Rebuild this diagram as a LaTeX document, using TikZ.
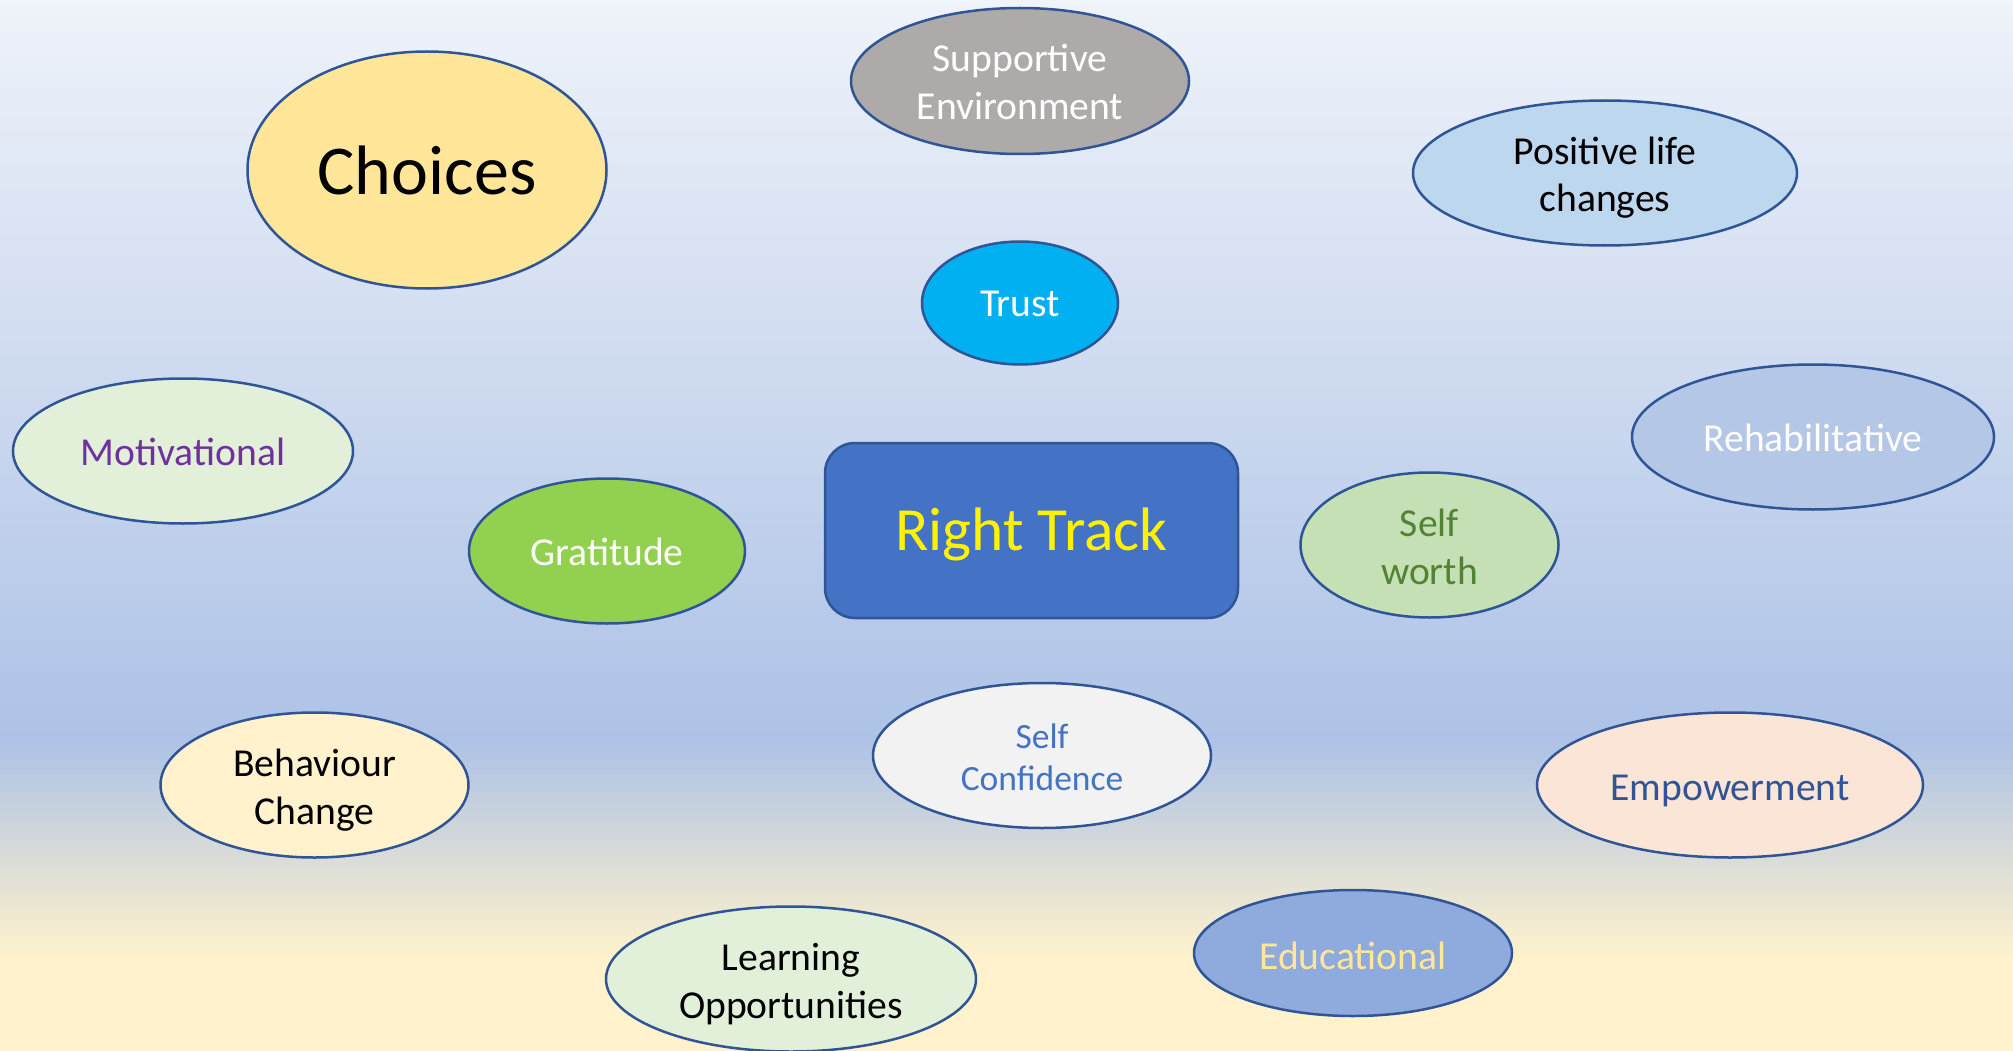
\documentclass[tikz,border=0pt]{standalone}
\usepackage{fontspec}
\setmainfont{Carlito}
\usetikzlibrary{shapes.geometric}
\definecolor{bgtop}{HTML}{EFF3FA}
\definecolor{bgmid}{HTML}{ADC2E6}
\definecolor{bgbot}{HTML}{FFF2CC}
\definecolor{edge}{HTML}{2F5597}
\definecolor{cChoices}{HTML}{FFE699}
\definecolor{cSupport}{HTML}{AEAAAA}
\definecolor{cPositive}{HTML}{BDD7EE}
\definecolor{cTrust}{HTML}{00B0F0}
\definecolor{cMotiv}{HTML}{E2F0D9}
\definecolor{tMotiv}{HTML}{7030A0}
\definecolor{cRehab}{HTML}{B4C7E7}
\definecolor{cGrat}{HTML}{92D050}
\definecolor{cRight}{HTML}{4472C4}
\definecolor{cWorth}{HTML}{C5E0B4}
\definecolor{tWorth}{HTML}{548235}
\definecolor{cBehav}{HTML}{FFF2CC}
\definecolor{cConf}{HTML}{F2F2F2}
\definecolor{tConf}{HTML}{4472C4}
\definecolor{cEmpow}{HTML}{FBE5D6}
\definecolor{tEmpow}{HTML}{2F5597}
\definecolor{cLearn}{HTML}{E2F0D9}
\definecolor{cEduc}{HTML}{8FAADC}
\definecolor{tEduc}{HTML}{FFE699}
\begin{document}
\begin{tikzpicture}[x=1pt,y=-1pt,
  bubble/.style={ellipse, draw=edge, line width=2.5pt, inner sep=0pt},
  label text/.style={inner sep=0pt, align=center, font=\fontsize{39.6}{47.5}\selectfont},
  centrebox/.style={rectangle, rounded corners=30pt, draw=edge, line width=2.5pt,
    fill=cRight, inner sep=0pt}]
\useasboundingbox (0,0) rectangle (2013,1051);
% background gradient
\shade[top color=bgtop, bottom color=bgmid] (0,0) rectangle (2013,741);
\shade[top color=bgmid, bottom color=bgbot] (0,740) rectangle (2013,958);
\fill[bgbot] (0,957) rectangle (2013,1051);

% shapes
\node[bubble, fill=cChoices, minimum width=359pt, minimum height=237pt] (choices) at (427,170) {};
\node[bubble, fill=cSupport, minimum width=338pt, minimum height=146pt] (support) at (1020,81) {};
\node[bubble, fill=cPositive, minimum width=384pt, minimum height=145pt] (positive) at (1605,173) {};
\node[bubble, fill=cTrust, minimum width=196pt, minimum height=123pt] (trust) at (1020,303) {};
\node[bubble, fill=cMotiv, minimum width=340pt, minimum height=145pt] (motiv) at (183,451) {};
\node[bubble, fill=cRehab, minimum width=362pt, minimum height=145pt] (rehab) at (1813,437) {};
\node[bubble, fill=cGrat, minimum width=276pt, minimum height=145pt] (grat) at (607,551) {};
\node[centrebox, minimum width=413pt, minimum height=175pt] (right) at (1031.5,530.5) {};
\node[bubble, fill=cWorth, minimum width=258pt, minimum height=145pt] (worth) at (1429.5,545) {};
\node[bubble, fill=cBehav, minimum width=308pt, minimum height=145pt] (behav) at (314.5,785) {};
\node[bubble, fill=cConf, minimum width=338pt, minimum height=145pt] (conf) at (1042,755.5) {};
\node[bubble, fill=cEmpow, minimum width=386pt, minimum height=145pt] (empow) at (1730,785) {};
\node[bubble, fill=cLearn, minimum width=370pt, minimum height=145pt] (learn) at (791,979) {};
\node[bubble, fill=cEduc, minimum width=318pt, minimum height=126pt] (educ) at (1353,953) {};

% texts
\node[label text, text=black, font=\fontsize{70}{80}\selectfont] (choicesT) at (choices.center) {Choices};
\node[label text, text=white] (supportT) at ([yshift=-1pt]support.center) {Supportive\\Environment};
\node[label text, text=black] (positiveT) at ([yshift=-4.5pt]positive.center) {Positive life\\changes};
\node[label text, text=white] (trustT) at ([yshift=-1pt]trust.center) {Trust};
\node[label text, text=tMotiv] (motivT) at ([yshift=-1pt]motiv.center) {Motivational};
\node[label text, text=white] (rehabT) at ([yshift=-1pt]rehab.center) {Rehabilitative};
\node[label text, text=white] (gratT) at ([yshift=-1pt]grat.center) {Gratitude};
\node[label text, text=yellow, font=\fontsize{61.4}{70}\selectfont] (rightT) at ([yshift=-4pt]right.center) {Right Track};
\node[label text, text=tWorth] (worthT) at ([yshift=-2pt]worth.center) {Self\\worth};
\node[label text, text=black] (behavT) at ([yshift=-5pt]behav.center) {Behaviour\\Change};
\node[label text, text=tConf, font=\fontsize{35.5}{42}\selectfont] (confT) at ([yshift=-2pt]conf.center) {Self\\Confidence};
\node[label text, text=tEmpow] (empowT) at ([yshift=-6pt]empow.center) {Empowerment};
\node[label text, text=black] (learnT) at ([yshift=-5pt]learn.center) {Learning\\Opportunities};
\node[label text, text=tEduc] (educT) at ([yshift=-2.5pt]educ.center) {Educational};
\end{tikzpicture}
\end{document}
